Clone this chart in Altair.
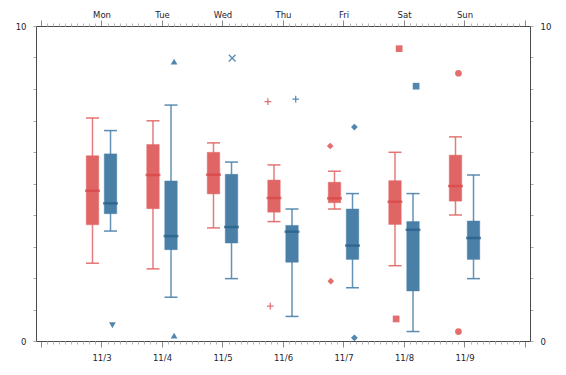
import json
import altair as alt
import pandas as pd

# ---------------- data ----------------
weekdays = ["Mon", "Tue", "Wed", "Thu", "Fri", "Sat", "Sun"]
dates = ["11/3", "11/4", "11/5", "11/6", "11/7", "11/8", "11/9"]
day_num = [3, 4, 5, 6, 7, 8, 9]
series_names = ["A", "B"]

a_low = [2.47, 2.29, 3.59, 3.79, 4.19, 2.39, 4.00]
a_q1 = [3.69, 4.20, 4.67, 4.09, 4.39, 3.70, 4.44]
a_med = [4.77, 5.27, 5.28, 4.54, 4.53, 4.42, 4.92]
a_q3 = [5.88, 6.24, 5.99, 5.11, 5.04, 5.09, 5.90]
a_high = [7.08, 6.99, 6.29, 5.59, 5.39, 5.99, 6.48]

b_low = [3.49, 1.39, 1.98, 0.78, 1.69, 0.30, 1.98]
b_q1 = [4.04, 2.90, 3.11, 2.50, 2.59, 1.59, 2.59]
b_med = [4.37, 3.33, 3.62, 3.47, 3.03, 3.53, 3.27]
b_q3 = [5.94, 5.08, 5.29, 3.67, 4.19, 3.79, 3.81]
b_high = [6.68, 7.49, 5.68, 4.19, 4.68, 4.68, 5.27]

out_day = ["Mon", "Tue", "Tue", "Wed", "Thu", "Thu", "Thu", "Fri", "Fri",
           "Fri", "Fri", "Sat", "Sat", "Sat", "Sun", "Sun"]
out_series = ["B", "B", "B", "B", "A", "A", "B", "A", "A",
              "B", "B", "A", "A", "B", "A", "A"]
out_value = [0.50, 8.87, 0.17, 8.98, 7.60, 1.11, 7.68, 6.19, 1.90,
             6.79, 0.10, 9.28, 0.70, 8.09, 8.50, 0.30]
out_dx = [0.18, 0.20, 0.20, 0.16, -0.25, -0.21, 0.21, -0.22, -0.21,
          0.18, 0.18, -0.08, -0.13, 0.20, -0.10, -0.10]

# ---------------- styles ----------------
RED = "#e06666"
RED_DARK = "#d94444"
BLUE = "#4a80a8"
BLUE_DARK = "#245c88"
FONT = "DejaVu Sans"
FS = 8.5
LABEL_COLOR = "#1c1c30"
GROUP_OFFSET = 0.149

rows = []
stats = {"A": (a_low, a_q1, a_med, a_q3, a_high), "B": (b_low, b_q1, b_med, b_q3, b_high)}
for s, sign in zip(series_names, [-1, 1]):
    lo, q1, md, q3, hi = stats[s]
    for i, d in enumerate(day_num):
        rows.append(dict(series=s, day=weekdays[i], x=d + sign * GROUP_OFFSET,
                         low=lo[i], q1=q1[i], med=md[i], q3=q3[i], high=hi[i]))
box_df = pd.DataFrame(rows)

out_df = pd.DataFrame(dict(day=out_day, series=out_series, value=out_value, dx=out_dx))
out_df["x"] = [day_num[weekdays.index(d)] + dx for d, dx in zip(out_df["day"], out_df["dx"])]

xscale = alt.Scale(domain=[2, 10], nice=False, zero=False)
yscale = alt.Scale(domain=[0, 10], nice=False, zero=False)

bottom_labels = [""] + dates + [""]
top_labels = [""] + weekdays + [""]
major_vals = list(range(2, 11))
minor_vals = [round(2 + i / 10, 2) for i in range(81) if i % 10]

common_axis = dict(title=None, grid=False, labelFont=FONT, labelFontSize=FS,
                   labelColor=LABEL_COLOR, domainColor="#4a4a4a", domainWidth=1)

ax_bottom = alt.Axis(orient="bottom", values=major_vals,
                     labelExpr=f"{json.dumps(bottom_labels)}[round(datum.value) - 2]",
                     tickSize=6, tickColor="#8a8a8a", labelPadding=6, labelOverlap=False,
                     **common_axis)
ax_bottom_minor = alt.Axis(orient="bottom", values=minor_vals, labels=False, tickSize=3,
                           tickColor="#b8b8b8", domain=False, title=None, grid=False)
ax_top = alt.Axis(orient="top", values=major_vals,
                  labelExpr=f"{json.dumps(top_labels)}[round(datum.value) - 2]",
                  tickSize=6, tickColor="#8a8a8a", labelPadding=1, labelOverlap=False,
                  **common_axis)
ax_top_minor = alt.Axis(orient="top", values=minor_vals, labels=False, tickSize=3,
                        tickColor="#b8b8b8", domain=False, title=None, grid=False)
y_label_expr = "datum.value == 0 || datum.value == 10 ? datum.label : ''"
ax_left = alt.Axis(orient="left", values=list(range(11)), labelExpr=y_label_expr,
                   tickSize=3, tickColor="#a8a8a8", labelPadding=7, **common_axis)
ax_right = alt.Axis(orient="right", values=list(range(11)), labelExpr=y_label_expr,
                    tickSize=3, tickColor="#a8a8a8", labelPadding=7, **common_axis)

is_a = alt.datum.series == "A"
col_fill = alt.condition(is_a, alt.value(RED), alt.value(BLUE))
col_dark = alt.condition(is_a, alt.value(RED_DARK), alt.value(BLUE_DARK))

base = alt.Chart(box_df)

whisker = base.mark_rule(strokeWidth=1.5, opacity=0.85).encode(
    x=alt.X("x:Q", scale=xscale, axis=ax_bottom),
    y=alt.Y("low:Q", scale=yscale, axis=ax_left),
    y2="high:Q",
    color=col_fill,
)
cap_low = base.mark_tick(orient="horizontal", size=13, thickness=1.5, opacity=0.9).encode(
    x=alt.X("x:Q", scale=xscale, axis=ax_bottom_minor),
    y=alt.Y("low:Q", scale=yscale, axis=ax_right),
    color=col_fill,
)
cap_high = base.mark_tick(orient="horizontal", size=13, thickness=1.5, opacity=0.9).encode(
    x=alt.X("x:Q", scale=xscale, axis=ax_top),
    y=alt.Y("high:Q", scale=yscale, axis=None),
    color=col_fill,
)
box = base.mark_bar(size=12.5, orient="vertical", strokeWidth=1, strokeOpacity=0.45).encode(
    x=alt.X("x:Q", scale=xscale, axis=ax_top_minor),
    y=alt.Y("q1:Q", scale=yscale, axis=None),
    y2="q3:Q",
    fill=col_fill,
    stroke=col_fill,
)
median = base.mark_tick(orient="horizontal", size=15, thickness=2.5).encode(
    x=alt.X("x:Q", scale=xscale, axis=None),
    y=alt.Y("med:Q", scale=yscale, axis=None),
    color=col_dark,
)

shape_scale = alt.Scale(
    domain=weekdays,
    range=["triangle-down", "triangle-up", "M-1,-1L1,1M-1,1L1,-1", "M-1,0L1,0M0,-1L0,1",
           "diamond", "square", "circle"],
)
outl = alt.Chart(out_df)
out_filled = outl.transform_filter(
    "datum.day != 'Wed' && datum.day != 'Thu'"
).mark_point(filled=True, size=45, opacity=0.95).encode(
    x=alt.X("x:Q", scale=xscale, axis=None),
    y=alt.Y("value:Q", scale=yscale, axis=None),
    shape=alt.Shape("day:N", scale=shape_scale, legend=None),
    color=col_fill,
)
out_stroked = outl.transform_filter(
    "datum.day == 'Wed' || datum.day == 'Thu'"
).mark_point(filled=False, size=45, strokeWidth=1.3, opacity=0.9).encode(
    x=alt.X("x:Q", scale=xscale, axis=None),
    y=alt.Y("value:Q", scale=yscale, axis=None),
    shape=alt.Shape("day:N", scale=shape_scale, legend=None),
    color=col_fill,
)

chart = alt.layer(
    whisker, cap_low, cap_high, box, median, out_filled, out_stroked
).resolve_axis(x="independent", y="independent").properties(
    width=494, height=315,
    autosize=alt.AutoSizeParams(type="none"),
    padding={"left": 28, "top": 18, "right": 28, "bottom": 26},
    background="white",
).configure_view(stroke=None)

chart.save("out.html", embed_options={"renderer": "svg", "actions": False})
